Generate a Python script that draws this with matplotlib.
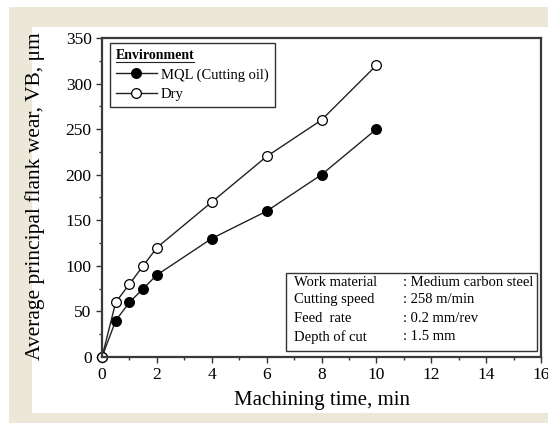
import matplotlib
matplotlib.use("Agg")
import matplotlib.pyplot as plt
from matplotlib.patches import Rectangle
from matplotlib.lines import Line2D

# data
time_min = [0, 0.5, 1, 1.5, 2, 4, 6, 8, 10]
wear_mql = [0, 40, 60, 75, 90, 130, 160, 200, 250]
wear_dry = [0, 60, 80, 100, 120, 170, 220, 260, 320]

x_ticks = [0, 2, 4, 6, 8, 10, 12, 14, 16]
y_ticks = [0, 50, 100, 150, 200, 250, 300, 350]

info_labels = ["Work material", "Cutting speed", "Feed  rate", "Depth of cut"]
info_values = [": Medium carbon steel", ": 258 m/min", ": 0.2 mm/rev", ": 1.5 mm"]

plt.rcParams['font.family'] = ['Liberation Serif', 'DejaVu Serif']

W, H = 548, 423
fig = plt.figure(figsize=(W / 100, H / 100), dpi=100)
fig.patch.set_facecolor('white')

# beige frame around the white panel
beige = '#ebe7d9'
fig.patches.append(Rectangle((9 / W, 0), (W - 9) / W, 1 - 7 / H, transform=fig.transFigure,
                             facecolor=beige, edgecolor='none', zorder=-2))
fig.patches.append(Rectangle((32 / W, (H - 413) / H), 1, (413 - 27) / H, transform=fig.transFigure,
                             facecolor='white', edgecolor='none', zorder=-1))

ax = fig.add_axes([102 / W, 1 - 357 / H, (541 - 102) / W, (357 - 38) / H])
ax.set_facecolor('white')

line_kw = dict(color='#222222', linewidth=1.0, markersize=7, markeredgewidth=0.9,
               markeredgecolor='black')
ax.plot(time_min, wear_mql, marker='o', markerfacecolor='black',
        label='MQL (Cutting oil)', clip_on=False, **line_kw)
ax.plot(time_min, wear_dry, marker='o', markerfacecolor='white',
        label='Dry', clip_on=False, **line_kw)

ax.set_xlim(0, 16)
ax.set_ylim(0, 350)
ax.set_xticks(x_ticks)
ax.set_yticks(y_ticks)
ax.set_xticks(range(1, 16, 2), minor=True)
ax.set_yticks(range(25, 350, 50), minor=True)
ax.tick_params(which='major', direction='out', length=4.5, width=1, labelsize=12.5,
               color='#333333', pad=3)
ax.tick_params(which='minor', direction='out', length=2.5, width=1, color='#333333')
for s in ax.spines.values():
    s.set_color('#3a3a3a')
    s.set_linewidth(1.6)

ax.set_xlabel('Machining time, min', fontsize=15)
ax.set_ylabel('Average principal flank wear, VB, \u03bcm', fontsize=15.5)
ax.xaxis.set_label_coords(0.5, -0.108)
ax.yaxis.set_label_coords(-0.13, 0.505)

leg = ax.legend(loc='upper left', bbox_to_anchor=(0.018, 0.985), borderaxespad=0,
                title='Environment', alignment='left', fontsize=10.5,
                title_fontproperties={'weight': 'bold', 'size': 10},
                fancybox=False, framealpha=1, edgecolor='#333333',
                handlelength=2.8, handletextpad=0.3, labelspacing=0.45,
                borderpad=0.4)
leg.get_frame().set_linewidth(1.0)

# underline the legend title
fig.canvas.draw()
tb = leg.get_title().get_window_extent()
ux0, uy = fig.transFigure.inverted().transform((tb.x0, tb.y0 - 0.5))
ux1, _ = fig.transFigure.inverted().transform((tb.x1, tb.y0 - 0.5))
fig.add_artist(Line2D([ux0, ux1], [uy, uy], transform=fig.transFigure,
                      color='#222222', linewidth=0.8, zorder=10))

# process conditions box
ax.add_patch(Rectangle((0.419, 0.019), 0.572, 0.244, transform=ax.transAxes,
                       facecolor='white', edgecolor='#333333', linewidth=1.0, zorder=5))
rows_y = [0.235, 0.179, 0.122, 0.063]
for lab, val, yy in zip(info_labels, info_values, rows_y):
    ax.text(0.437, yy, lab, transform=ax.transAxes, fontsize=10.5, va='center', zorder=6)
    ax.text(0.686, yy, val, transform=ax.transAxes, fontsize=10.5, va='center', zorder=6)

fig.savefig('out.png', dpi=100)
